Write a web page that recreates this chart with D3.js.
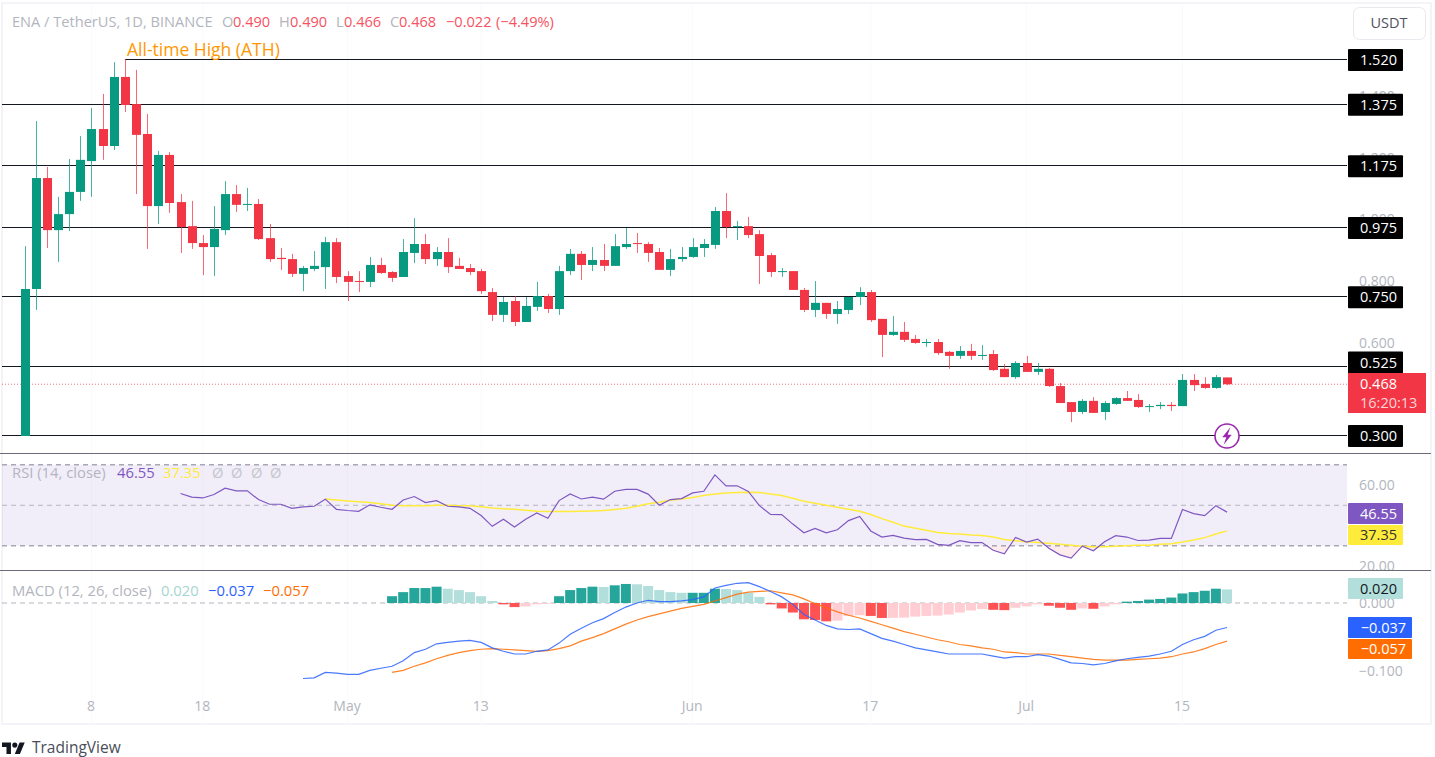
<!DOCTYPE html>
<html>
<head>
<meta charset="utf-8">
<title>ENA / TetherUS</title>
<script src="https://cdn.jsdelivr.net/npm/d3@7"></script>
<style>
  html, body { margin: 0; padding: 0; background: #fff; overflow: hidden; }
  text { font-family: "Open Sans", "Noto Sans", sans-serif; }
  .axis path, .axis line { display: none; }
  .axis text { fill: #b2b5be; font-size: 14px; }
</style>
</head>
<body>
<svg id="chart" width="1435" height="757"></svg>
<script>
// candles, one per day from Apr 2
var opens = [.300,.777,1.137,.968,1.020,1.092,1.192,1.296,1.241,1.465,1.377,1.280,1.046,1.212,1.059,.981,.926,.913,.968,1.085,1.050,1.053,.942,.878,.874,.826,.842,.848,.929,.819,.803,.800,.855,.832,.816,.894,.923,.874,.897,.852,.845,.835,.767,.693,.738,.670,.719,.754,.712,.835,.891,.855,.871,.852,.913,.926,.923,.897,.839,.874,.881,.910,.920,1.030,.978,.981,.955,.887,.832,.835,.774,.709,.732,.696,.709,.751,.767,.680,.628,.638,.615,.602,.605,.573,.560,.576,.560,.566,.518,.491,.537,.508,.518,.462,.410,.378,.414,.378,.404,.423,.417,.394,.397,.401,.397,.482,.469,.456,.490];
var highs = [.916,1.322,1.173,1.076,1.199,1.273,1.364,1.410,1.513,1.523,1.488,1.345,1.225,1.221,1.085,1.063,.952,1.046,1.127,1.114,1.105,1.069,.988,.910,.891,.852,.900,.946,.942,.835,.835,.881,.878,.835,.939,1.007,.955,.913,.942,.878,.858,.842,.780,.751,.754,.751,.800,.761,.852,.907,.900,.913,.923,.955,.975,.959,.929,.910,.907,.913,.942,.939,1.043,1.088,.998,1.011,.968,.894,.845,.835,.780,.803,.732,.738,.751,.783,.774,.680,.689,.670,.628,.615,.615,.576,.592,.599,.595,.579,.534,.543,.560,.537,.521,.472,.410,.420,.426,.414,.426,.446,.436,.404,.410,.410,.501,.501,.491,.498,.490];
var lows = [.300,.709,.910,.865,.965,1.063,1.076,1.196,1.228,1.351,1.085,.907,.988,1.024,.894,.907,.822,.819,.952,1.027,1.030,.936,.865,.839,.816,.770,.835,.777,.796,.738,.767,.783,.826,.800,.816,.861,.858,.852,.829,.842,.822,.761,.673,.670,.657,.670,.706,.699,.693,.822,.806,.835,.835,.852,.907,.894,.865,.839,.819,.865,.878,.881,.907,.942,.936,.942,.793,.816,.816,.774,.702,.686,.680,.664,.696,.725,.670,.556,.625,.605,.599,.589,.563,.518,.550,.547,.547,.511,.491,.485,.508,.498,.459,.407,.345,.371,.375,.352,.401,.414,.391,.378,.387,.381,.397,.446,.453,.453,.465];
var closes = [.777,1.137,.968,1.020,1.092,1.196,1.296,1.241,1.465,1.374,1.277,1.046,1.212,1.056,.978,.926,.913,.972,1.085,1.050,1.053,.939,.874,.874,.826,.845,.852,.929,.816,.800,.800,.855,.829,.813,.897,.923,.874,.897,.848,.842,.832,.770,.693,.735,.670,.722,.754,.712,.835,.891,.855,.871,.852,.916,.923,.923,.894,.839,.874,.881,.913,.923,1.030,.978,.981,.952,.884,.832,.835,.774,.709,.732,.696,.712,.751,.767,.676,.628,.638,.612,.602,.605,.569,.560,.576,.560,.563,.514,.491,.537,.508,.518,.462,.407,.378,.414,.375,.407,.423,.414,.394,.397,.401,.397,.482,.465,.456,.491,.468];

// horizontal levels drawn on the chart
var levels = [1.520,1.375,1.175,.975,.750,.525,.300];
var priceTicks = [1.400,1.200,1.000,.800,.600];

// RSI(14) starts at candle 14, its MA at candle 27
var rsiStart = 14;
var rsi = [55.8,54.0,53.6,55.3,58.4,57.1,57.1,52.8,50.5,50.5,48.5,49.2,49.5,53.0,48.0,47.4,47.0,50.2,49.0,48.0,52.6,54.3,51.3,52.3,49.5,49.2,48.5,44.9,39.6,43.1,39.3,43.1,46.2,43.6,52.3,55.6,53.1,54.0,53.0,56.9,57.8,57.8,55.5,50.0,52.8,53.3,56.1,56.9,65.0,59.6,59.6,56.8,49.8,45.5,45.4,40.7,36.4,38.6,36.4,37.9,42.4,44.5,37.3,34.3,35.1,33.8,33.0,33.1,30.7,30.2,32.5,31.5,31.6,27.8,26.0,34.1,31.8,33.3,28.8,25.5,23.9,29.8,27.5,32.0,35.0,34.3,32.6,32.8,33.6,33.6,47.9,45.9,44.9,49.8,46.6];
var rsiMaStart = 27;
var rsiMa = [53.1,52.6,52.1,51.7,51.3,50.7,50,49.7,49.7,49.8,50,50,49.8,49.7,49.3,48.7,48.3,48,47.5,47,46.9,46.9,46.9,47,47.2,47.4,47.9,48.5,49.5,50.7,51.5,52.5,53.1,53.8,54.8,55.6,56,56.3,56.4,56.3,55.6,54.8,53.5,52,51,50,49,48,47,45.4,43.4,41.6,39.7,38.6,37.6,36.6,36.1,35.8,35.3,35.1,34.3,33.1,32.5,32,31.6,31.2,30.7,30.2,29.8,29.5,29.5,29.7,30,30.2,30.3,30.7,31,31.8,32.8,34,35.8,37.35];
var rsiLevels = [70,50,30];
var rsiTicks = [60,20];

// MACD(12,26,9), line from candle 25, signal and histogram from candle 33
var macdStart = 25;
var macdLine = [-.111,-.110,-.102,-.103,-.105,-.105,-.099,-.096,-.093,-.085,-.073,-.068,-.060,-.058,-.056,-.055,-.058,-.066,-.071,-.075,-.075,-.071,-.069,-.059,-.046,-.037,-.029,-.023,-.014,-.006,0,.004,.002,.002,.003,.005,.009,.022,.026,.029,.030,.024,.017,.009,-.002,-.017,-.025,-.033,-.038,-.039,-.038,-.045,-.052,-.056,-.061,-.066,-.069,-.072,-.075,-.075,-.075,-.075,-.078,-.081,-.079,-.079,-.076,-.078,-.083,-.088,-.089,-.091,-.089,-.085,-.082,-.080,-.078,-.075,-.071,-.061,-.054,-.049,-.040,-.036];
var signalStart = 33;
var signalLine = [-.102,-.099,-.093,-.088,-.082,-.077,-.073,-.070,-.068,-.067,-.068,-.069,-.070,-.071,-.070,-.067,-.063,-.056,-.051,-.045,-.038,-.031,-.025,-.020,-.016,-.012,-.008,-.005,-.002,.003,.008,.013,.016,.017,.018,.015,.012,.006,-.001,-.007,-.013,-.018,-.022,-.027,-.032,-.037,-.042,-.046,-.050,-.054,-.057,-.061,-.063,-.066,-.068,-.072,-.073,-.075,-.075,-.075,-.077,-.079,-.081,-.083,-.084,-.084,-.084,-.083,-.082,-.081,-.079,-.075,-.072,-.067,-.061,-.056];
var histogram = [.010,.016,.022,.022,.024,.021,.019,.016,.010,.003,-.002,-.006,-.005,-.002,-.001,.010,.019,.022,.024,.0235,.026,.028,.0275,.025,.019,.016,.015,.015,.015,.021,.0205,.019,.015,.009,-.002,-.008,-.014,-.024,-.025,-.027,-.026,-.019,-.018,-.019,-.022,-.0218,-.0215,-.020,-.019,-.0185,-.017,-.014,-.011,-.009,-.010,-.0105,-.007,-.005,-.002,-.004,-.007,-.010,-.008,-.0085,-.005,-.002,.002,.003,.005,.006,.008,.014,.016,.018,.021,.020];
var macdTicks = [0,-.1];

// time axis
var timeIdx = [6,16,29,41,60,76,90,104];
var timeLabels = ['8','18','May','13','Jun','17','Jul','15'];

var GREEN = '#089981', RED = '#f23645';

var svg = d3.select('#chart');

var x = d3.scaleLinear().domain([0, 108]).range([24.7, 1227]);
var yPrice = d3.scaleLinear().domain([.3, 1.52]).range([436, 60]);
var yRsi = d3.scaleLinear().domain([20, 60]).range([566, 485]);
var yMacd = d3.scaleLinear().domain([-.1, 0]).range([671, 603]);

var RIGHT = 1347;

// outer frame
svg.append('rect').attr('x', 2).attr('y', 3).attr('width', 1429).attr('height', 721)
  .attr('fill', 'none').attr('stroke', '#f0f0f6').attr('stroke-width', 1.5);

// faint day grid
svg.append('g').selectAll('line').data(timeIdx).enter().append('line')
  .attr('x1', function(d) { return x(d); }).attr('x2', function(d) { return x(d); })
  .attr('y1', 4).attr('y2', 724).attr('stroke', '#fafafc');

function rightAxis(scale, ticks, fmt, dy) {
  return svg.append('g').attr('class', 'axis').attr('transform', 'translate(1347,' + (dy || 0) + ')')
    .call(d3.axisRight(scale).tickValues(ticks).tickSize(0).tickPadding(12).tickFormat(fmt));
}
var minus = function(s) { return s.replace('-', '\u2212'); };

// price axis sits under the level badges
rightAxis(yPrice, priceTicks, d3.format('.3f'), -1);

// horizontal levels
svg.append('g').selectAll('line').data(levels).enter().append('line')
  .attr('x1', function(d) { return d === 1.52 ? x(9) : 2; })
  .attr('x2', RIGHT)
  .attr('y1', function(d) { return Math.round(yPrice(d)) - .5; })
  .attr('y2', function(d) { return Math.round(yPrice(d)) - .5; })
  .attr('stroke', '#131722').attr('stroke-width', 1);

// last price line
svg.append('line').attr('x1', 2).attr('x2', RIGHT)
  .attr('y1', yPrice(.468)).attr('y2', yPrice(.468))
  .attr('stroke', RED).attr('stroke-opacity', .7).attr('stroke-dasharray', '1 2');

// candles
var candle = svg.append('g').selectAll('g').data(d3.range(opens.length)).enter().append('g')
  .attr('fill', function(i) { return closes[i] >= opens[i] ? GREEN : RED; })
  .attr('stroke', function(i) { return closes[i] >= opens[i] ? GREEN : RED; });

candle.append('line')
  .attr('x1', function(i) { return Math.round(x(i)) + .5; })
  .attr('x2', function(i) { return Math.round(x(i)) + .5; })
  .attr('y1', function(i) { return yPrice(highs[i]); })
  .attr('y2', function(i) { return yPrice(lows[i]); })
  .attr('stroke-opacity', .75);

candle.append('rect')
  .attr('stroke', 'none')
  .attr('x', function(i) { return Math.round(x(i)) - 4; })
  .attr('width', 9)
  .attr('y', function(i) { return yPrice(Math.max(opens[i], closes[i])); })
  .attr('height', function(i) { return Math.max(1, Math.abs(yPrice(opens[i]) - yPrice(closes[i]))); });

// ATH note
svg.append('text').attr('x', 127).attr('y', 56).attr('fill', '#ff9800').attr('font-size', 17.5)
  .text('All-time High (ATH)');

// lightning mark
svg.append('circle').attr('cx', 1227).attr('cy', 436).attr('r', 12)
  .attr('fill', '#fff').attr('stroke', '#9c27b0').attr('stroke-width', 1.6);
svg.append('path').attr('transform', 'translate(1227,436) scale(1.35)')
  .attr('d', 'M2.5 -6.5 L-3.5 1 L-0.5 1 L-2.5 6.5 L3.5 -1 L0.5 -1 Z').attr('fill', '#9c27b0');

// pane separators
[453, 570].forEach(function(y) {
  svg.append('line').attr('x1', 0).attr('x2', 1431).attr('y1', y + .5).attr('y2', y + .5)
    .attr('stroke', '#6a6d78').attr('stroke-width', 1);
});

// RSI pane
svg.append('rect').attr('x', 2).attr('width', RIGHT - 2)
  .attr('y', yRsi(70)).attr('height', yRsi(30) - yRsi(70))
  .attr('fill', '#7e57c2').attr('fill-opacity', .1);

svg.append('g').selectAll('line').data(rsiLevels).enter().append('line')
  .attr('x1', 2).attr('x2', RIGHT)
  .attr('y1', function(d) { return yRsi(d); }).attr('y2', function(d) { return yRsi(d); })
  .attr('stroke', function(d) { return d === 50 ? '#b2b5be' : '#a8a8b4'; })
  .attr('stroke-width', function(d) { return d === 50 ? 1 : 1.5; })
  .attr('stroke-dasharray', '5 4');

svg.append('clipPath').attr('id', 'below30').append('rect')
  .attr('x', 0).attr('width', 1435).attr('y', yRsi(30)).attr('height', 24);
svg.append('path').datum(rsi)
  .attr('clip-path', 'url(#below30)')
  .attr('d', d3.area()
    .x(function(d, i) { return x(i + rsiStart); })
    .y0(yRsi(30)).y1(function(d) { return yRsi(d); }))
  .attr('fill', RED).attr('fill-opacity', .1);

var rsiPath = d3.line().x(function(d, i) { return x(i + rsiStart); }).y(function(d) { return yRsi(d); });
var rsiMaPath = d3.line().x(function(d, i) { return x(i + rsiMaStart); }).y(function(d) { return yRsi(d); });
svg.append('path').datum(rsiMa).attr('d', rsiMaPath).attr('fill', 'none')
  .attr('stroke', '#ffeb3b').attr('stroke-width', 1.5);
svg.append('path').datum(rsi).attr('d', rsiPath).attr('fill', 'none')
  .attr('stroke', '#7e57c2').attr('stroke-width', 1.2);

rightAxis(yRsi, rsiTicks, d3.format('.2f'));
svg.append('line').attr('x1', 1347).attr('x2', 1431).attr('y1', 570.5).attr('y2', 570.5)
  .attr('stroke', '#6a6d78');

// MACD pane
svg.append('line').attr('x1', 2).attr('x2', RIGHT).attr('y1', yMacd(0)).attr('y2', yMacd(0))
  .attr('stroke', '#b2b5be').attr('stroke-dasharray', '5 4');

svg.append('g').selectAll('rect').data(histogram).enter().append('rect')
  .attr('x', function(d, i) { return x(i + signalStart) - 5; })
  .attr('width', 10)
  .attr('y', function(d) { return Math.min(yMacd(d), yMacd(0)); })
  .attr('height', function(d) { return Math.abs(yMacd(d) - yMacd(0)); })
  .attr('fill', function(d, i) {
    var prev = i > 0 ? histogram[i - 1] : 0;
    if (d >= 0) return d >= prev ? '#26a69a' : '#b2dfdb';
    return d < prev ? '#ff5252' : '#ffcdd2';
  });

svg.append('path').datum(signalLine).attr('fill', 'none').attr('stroke', '#ff6d00').attr('stroke-width', 1.2).attr('stroke-opacity', .85)
  .attr('d', d3.line().x(function(d, i) { return x(i + signalStart); }).y(function(d) { return yMacd(d); }));
svg.append('path').datum(macdLine).attr('fill', 'none').attr('stroke', '#2962ff').attr('stroke-width', 1.2).attr('stroke-opacity', .85)
  .attr('d', d3.line().x(function(d, i) { return x(i + macdStart); }).y(function(d) { return yMacd(d); }));

rightAxis(yMacd, macdTicks, function(d) { return minus(d3.format('.3f')(d)); });

// time axis
svg.append('g').attr('class', 'axis').attr('transform', 'translate(-1,695)')
  .call(d3.axisBottom(x).tickValues(timeIdx).tickSize(0).tickPadding(6)
    .tickFormat(function(d, i) { return timeLabels[i]; }));

// badges on the right side
function badge(y0, y1, w, fill, color, label) {
  svg.append('rect').attr('x', 1348).attr('y', y0).attr('width', w).attr('height', y1 - y0)
    .attr('fill', fill).attr('rx', 1);
  svg.append('text').attr('x', 1348 + w - 6).attr('y', (y0 + y1) / 2 + 5)
    .attr('text-anchor', 'end').attr('font-size', 14.5).attr('fill', color).text(label);
}
levels.forEach(function(d) {
  var c = d === .525 ? 362.5 : yPrice(d);
  badge(c - 11, c + 11, 55, '#000', '#fff', d3.format('.3f')(d));
});
svg.append('rect').attr('x', 1348).attr('y', 373).attr('width', 78).attr('height', 40).attr('fill', RED);
svg.append('text').attr('x', 1360).attr('y', 389).attr('font-size', 14.5).attr('fill', '#fff').text('0.468');
svg.append('text').attr('x', 1360).attr('y', 408).attr('font-size', 14.5).attr('fill', '#fcd5d8').text('16:20:13');
badge(503, 524, 55, '#7e57c2', '#fff', '46.55');
badge(525, 545, 55, '#ffeb3b', '#333', '37.35');
badge(578, 599, 55, '#b2dfdb', '#131722', '0.020');
badge(617, 638, 64, '#2962ff', '#fff', '\u22120.037');
badge(639, 659, 64, '#ff6d00', '#fff', '\u22120.057');

// USDT button
svg.append('rect').attr('x', 1353.5).attr('y', 7.5).attr('width', 72).attr('height', 32).attr('rx', 6)
  .attr('fill', '#fff').attr('stroke', '#e8e8ee');
svg.append('text').attr('x', 1389).attr('y', 28).attr('text-anchor', 'middle').attr('font-size', 14.5)
  .attr('fill', '#50535e').text('USDT');

// legends
var GRAY = '#b2b5be', REDTXT = '#f7525f';
function legend(y, size, items) {
  items.forEach(function(t) {
    svg.append('text').attr('x', t[0]).attr('y', y).attr('font-size', size).attr('fill', t[2]).text(t[1]);
  });
}
legend(27, 14.6, [
  [12, 'ENA / TetherUS, 1D, BINANCE', GRAY],
  [222, 'O', GRAY], [233, '0.490', REDTXT],
  [279, 'H', GRAY], [290, '0.490', REDTXT],
  [336, 'L', GRAY], [344, '0.466', REDTXT],
  [390, 'C', GRAY], [399, '0.468', REDTXT],
  [446, '\u22120.022', REDTXT], [496, '(\u22124.49%)', REDTXT]
]);
legend(478, 14.8, [
  [12, 'RSI (14, close)', GRAY], [117, '46.55', '#7e57c2'], [163, '37.35', '#ffeb3b'],
  [212, '\u00d8', '#c4c6cc'], [231, '\u00d8', '#c4c6cc'], [251, '\u00d8', '#c4c6cc'], [270, '\u00d8', '#c4c6cc']
]);
legend(596, 14.8, [
  [12, 'MACD (12, 26, close)', GRAY], [161, '0.020', '#a5d6d0'],
  [208, '\u22120.037', '#2962ff'], [263, '\u22120.057', '#ff6d00']
]);

// logo
var logo = svg.append('g').attr('transform', 'translate(2,740) scale(.64)').attr('fill', '#131722');
logo.append('path').attr('d', 'M14 22H7V11H0V4h14v18zM28 22h-8l7.5-18h8L28 22z');
logo.append('circle').attr('cx', 20).attr('cy', 8).attr('r', 4);
svg.append('text').attr('x', 32).attr('y', 753).attr('font-size', 15.5).attr('fill', '#4a4d57').text('TradingView');
</script>
</body>
</html>
